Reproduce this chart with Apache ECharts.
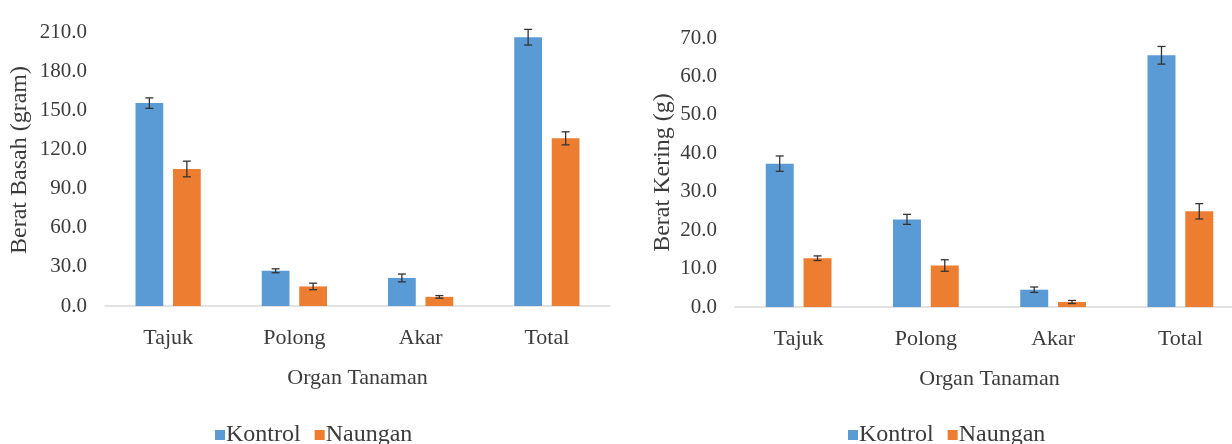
<!DOCTYPE html>
<html>
<head>
<meta charset="utf-8">
<script src="https://cdn.jsdelivr.net/npm/echarts@6/dist/echarts.min.js"></script>
<style>
  html, body { margin: 0; padding: 0; background: #fff; }
  #main { width: 1232px; height: 444px; }
</style>
</head>
<body>
<div id="main"></div>
<script>
var categories = ['Tajuk', 'Polong', 'Akar', 'Total'];
var seriesNames = ['Kontrol', 'Naungan'];

// Berat Basah (gram)
var basahKontrol = [155.5, 27.0, 21.5, 206.0];
var basahKontrolErr = [4.0, 1.5, 3.0, 6.0];
var basahNaungan = [105.0, 15.0, 7.0, 128.5];
var basahNaunganErr = [6.0, 2.5, 1.0, 5.0];
var basahTicks = [0, 30, 60, 90, 120, 150, 180, 210];

// Berat Kering (g)
var keringKontrol = [37.3, 22.8, 4.5, 65.5];
var keringKontrolErr = [2.0, 1.3, 0.7, 2.3];
var keringNaungan = [12.7, 10.8, 1.3, 24.9];
var keringNaunganErr = [0.6, 1.5, 0.4, 2.0];
var keringTicks = [0, 10, 20, 30, 40, 50, 60, 70];

var BLUE = '#5B9BD5';
var ORANGE = '#ED7D31';
var FONT = '"Liberation Serif", "DejaVu Serif", serif';
var TEXT = '#3b3b3b';
var BAR_W = 0.22;   // fraction of category band
var GAP = 0.35;     // fraction of bar width

function errData(vals, errs) {
    return vals.map(function (v, i) { return [i, v - errs[i], v + errs[i]]; });
}

function errorSeries(name, xi, vals, errs, side) {
    return {
        type: 'custom',
        name: name,
        xAxisIndex: xi,
        yAxisIndex: xi,
        z: 10,
        silent: true,
        data: errData(vals, errs),
        renderItem: function (params, api) {
            var band = api.size([1, 0])[0];
            var bw = band * BAR_W;
            var off = side * (bw + bw * GAP) / 2;
            var lo = api.coord([api.value(0), api.value(1)]);
            var hi = api.coord([api.value(0), api.value(2)]);
            var x = lo[0] + off;
            var cap = 4;
            var st = { stroke: '#333', lineWidth: 1.3 };
            return {
                type: 'group',
                children: [
                    { type: 'line', shape: { x1: x, y1: lo[1], x2: x, y2: hi[1] }, style: st },
                    { type: 'line', shape: { x1: x - cap, y1: hi[1], x2: x + cap, y2: hi[1] }, style: st },
                    { type: 'line', shape: { x1: x - cap, y1: lo[1], x2: x + cap, y2: lo[1] }, style: st }
                ]
            };
        }
    };
}

function barSeries(name, xi, vals, color) {
    return {
        type: 'bar',
        name: name,
        xAxisIndex: xi,
        yAxisIndex: xi,
        barWidth: (BAR_W * 100) + '%',
        barGap: (GAP * 100) + '%',
        itemStyle: { color: color },
        data: vals
    };
}

function xAxis(gi) {
    return {
        type: 'category',
        gridIndex: gi,
        data: categories,
        name: 'Organ Tanaman',
        nameLocation: 'middle',
        nameGap: 61,
        nameTextStyle: { fontFamily: FONT, fontSize: 22, color: TEXT },
        axisLine: { lineStyle: { color: '#d9d9d9', width: 1.5 } },
        axisTick: { show: false },
        axisLabel: { fontFamily: FONT, fontSize: 22, color: TEXT, margin: 21 }
    };
}

function yAxis(gi, ticks, title, gap, shift) {
    return {
        type: 'value',
        gridIndex: gi,
        min: ticks[0],
        max: ticks[ticks.length - 1],
        interval: ticks[1] - ticks[0],
        name: title,
        nameLocation: 'middle',
        nameGap: gap,
        nameTextStyle: { fontFamily: FONT, fontSize: 24, color: TEXT, padding: [0, 0, 0, shift] },
        axisLine: { show: false },
        axisTick: { show: false },
        splitLine: { show: false },
        axisLabel: {
            fontFamily: FONT, fontSize: 21, color: TEXT, margin: 18,
            formatter: function (v) { return v.toFixed(1); }
        }
    };
}

function legend(left) {
    return {
        data: seriesNames,
        left: left,
        top: 418,
        itemWidth: 10,
        itemHeight: 10,
        itemGap: 14,
        icon: 'rect',
        textStyle: { fontFamily: FONT, fontSize: 24, color: TEXT, padding: [0, 0, 0, -4] }
    };
}

var chart = echarts.init(document.getElementById('main'));
chart.setOption({
    backgroundColor: '#fff',
    animation: false,
    legend: [legend(210), legend(843)],
    grid: [
        { left: 105, top: 32, width: 505, height: 274, outerBoundsMode: 'none', containLabel: false },
        { left: 735, top: 38, width: 509, height: 269, outerBoundsMode: 'none', containLabel: false }
    ],
    xAxis: [xAxis(0), xAxis(1)],
    yAxis: [
        yAxis(0, basahTicks, 'Berat Basah (gram)', 73, 18),
        yAxis(1, keringTicks, 'Berat Kering (g)', 60, 0)
    ],
    series: [
        barSeries('Kontrol', 0, basahKontrol, BLUE),
        barSeries('Naungan', 0, basahNaungan, ORANGE),
        barSeries('Kontrol', 1, keringKontrol, BLUE),
        barSeries('Naungan', 1, keringNaungan, ORANGE),
        errorSeries('errK0', 0, basahKontrol, basahKontrolErr, -1),
        errorSeries('errN0', 0, basahNaungan, basahNaunganErr, 1),
        errorSeries('errK1', 1, keringKontrol, keringKontrolErr, -1),
        errorSeries('errN1', 1, keringNaungan, keringNaunganErr, 1)
    ]
});
</script>
</body>
</html>
